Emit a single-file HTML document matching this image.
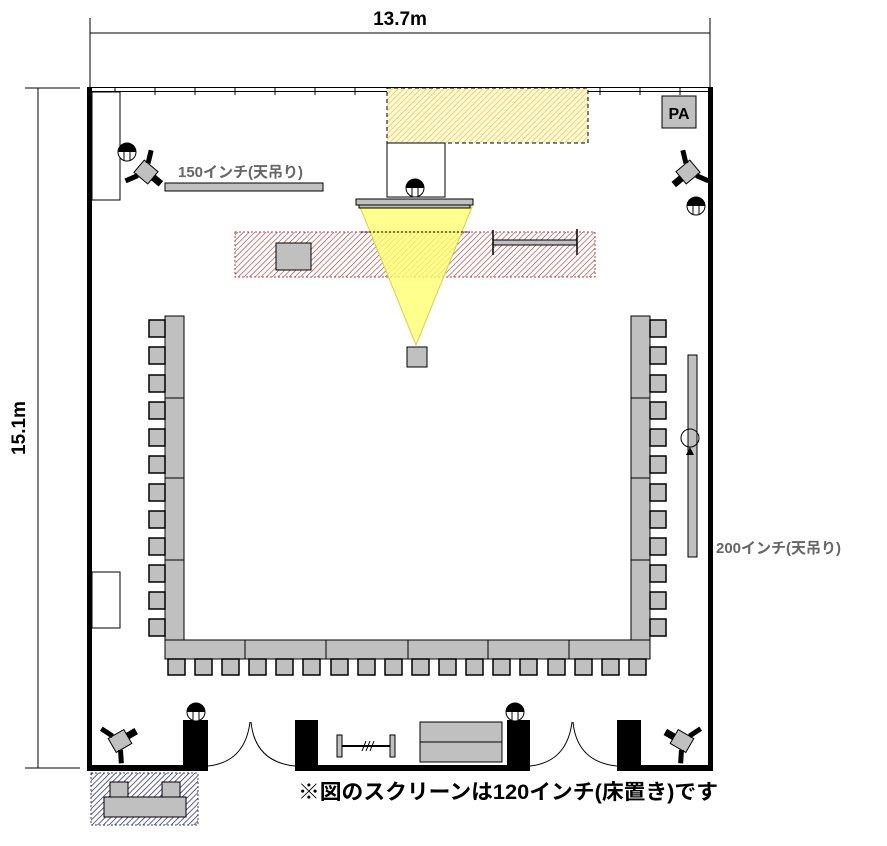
<!DOCTYPE html>
<html><head><meta charset="utf-8"><style>
html,body{margin:0;padding:0;background:#fff;}
svg{display:block;font-family:"Liberation Sans","Noto Sans CJK JP",sans-serif;}
</style></head><body>
<svg width="887" height="846" viewBox="0 0 887 846" xmlns="http://www.w3.org/2000/svg">
<defs>
<pattern id="ry" width="4" height="4" patternUnits="userSpaceOnUse" patternTransform="rotate(45)"><rect width="4" height="4" fill="#fff8d0"/><line x1="0" y1="0" x2="0" y2="4" stroke="#dcc860" stroke-width="1.4"/></pattern>
<pattern id="rr" width="4" height="4" patternUnits="userSpaceOnUse" patternTransform="rotate(45)"><rect width="4" height="4" fill="#fff"/><line x1="0" y1="0" x2="0" y2="4" stroke="#b03030" stroke-width="1.2"/></pattern>
<pattern id="rb" width="4" height="4" patternUnits="userSpaceOnUse" patternTransform="rotate(45)"><rect width="4" height="4" fill="#fff"/><line x1="0" y1="0" x2="0" y2="4" stroke="#2a2a7a" stroke-width="1.5"/></pattern>
<g id="ch"><rect x="0" y="0" width="16" height="17" fill="#c0c0c0" stroke="#000" stroke-width="1.5"/></g>
<g id="chb"><rect x="0" y="0" width="17" height="16" fill="#c0c0c0" stroke="#000" stroke-width="1.5"/></g>
<g id="person"><circle cx="0" cy="0" r="9" fill="#fff" stroke="#000"/><path d="M-9,0 A9,9 0 0 1 9,0 Z" fill="#000"/><line x1="-3" y1="-1" x2="-3" y2="8" stroke="#000"/><line x1="3" y1="-1" x2="3" y2="8" stroke="#000"/></g>
<g id="cam"><rect x="-9" y="-8" width="18" height="16" fill="#c0c0c0" stroke="#000"/><rect x="9" y="-4" width="10" height="7" fill="#000"/><line x1="-4" y1="-8" x2="-10" y2="-20" stroke="#000" stroke-width="5"/><line x1="-4" y1="8" x2="-10" y2="20" stroke="#000" stroke-width="5"/></g>
</defs>

<line x1="90" y1="33" x2="710" y2="33" stroke="#000"/>
<line x1="90" y1="18" x2="90" y2="88" stroke="#000"/>
<line x1="710" y1="18" x2="710" y2="88" stroke="#000"/>
<text x="400" y="25" font-size="19" font-weight="bold" text-anchor="middle">13.7m</text>
<line x1="38" y1="88" x2="38" y2="768" stroke="#000"/>
<line x1="25" y1="88" x2="80" y2="88" stroke="#000"/>
<line x1="25" y1="768" x2="80" y2="768" stroke="#000"/>
<text transform="translate(25,428) rotate(-90)" font-size="19" font-weight="bold" text-anchor="middle">15.1m</text>

<rect x="87" y="87" width="5" height="684" fill="#000"/>
<rect x="708" y="87" width="5" height="684" fill="#000"/>
<line x1="88" y1="87.5" x2="712" y2="87.5" stroke="#000"/>
<line x1="88" y1="91.5" x2="712" y2="91.5" stroke="#000"/>
<g stroke="#000"><line x1="115" y1="87" x2="115" y2="95"/><line x1="155" y1="87" x2="155" y2="95"/><line x1="195" y1="87" x2="195" y2="95"/><line x1="235" y1="87" x2="235" y2="95"/><line x1="275" y1="87" x2="275" y2="95"/><line x1="315" y1="87" x2="315" y2="95"/><line x1="355" y1="87" x2="355" y2="95"/><line x1="600" y1="87" x2="600" y2="95"/><line x1="640" y1="87" x2="640" y2="95"/><line x1="680" y1="87" x2="680" y2="95"/></g>
<rect x="87" y="765" width="96" height="6" fill="#000"/>
<rect x="318" y="765" width="190" height="6" fill="#000"/>
<rect x="641" y="765" width="72" height="6" fill="#000"/>
<rect x="183" y="720" width="25" height="51" fill="#000"/>
<rect x="295" y="720" width="23" height="51" fill="#000"/>
<rect x="507" y="720" width="23" height="51" fill="#000"/>
<rect x="617" y="720" width="24" height="51" fill="#000"/>
<path d="M208,766 Q245,762 250,722 M295,766 Q255,762 251,722 M530,766 Q567,762 572,722 M617,766 Q577,762 573,722" fill="none" stroke="#000"/>

<rect x="92" y="92" width="28" height="108" fill="#fff" stroke="#000"/>
<rect x="92" y="572" width="28" height="56" fill="#fff" stroke="#000"/>

<rect x="387" y="88" width="201" height="55" fill="url(#ry)" stroke="#000" stroke-dasharray="4,3"/>
<rect x="387" y="143" width="58" height="54" fill="#fff" stroke="#000"/>
<use href="#person" x="415" y="188"/>

<rect x="235" y="232" width="360" height="45" fill="url(#rr)" stroke="#b04040" stroke-dasharray="2,2"/>
<rect x="276" y="243" width="35" height="27" fill="#c0c0c0" stroke="#000"/>
<rect x="493" y="240" width="84" height="5" fill="#c0c0c0" stroke="#000"/>
<line x1="493" y1="230" x2="493" y2="255" stroke="#000" stroke-width="1.5"/>
<line x1="577" y1="229" x2="577" y2="255" stroke="#000" stroke-width="1.5"/>

<polygon points="360,207 472,207 416,345" fill="#ffff70" fill-opacity="0.8" stroke="#e0d040"/>
<line x1="361" y1="232" x2="470" y2="232" stroke="#000" stroke-dasharray="2,2"/>
<rect x="356" y="199" width="117" height="6" fill="#c0c0c0" stroke="#000"/>
<rect x="359" y="205" width="111" height="3" fill="#c0c0c0" stroke="#000"/>
<rect x="407" y="347" width="20" height="20" fill="#c0c0c0" stroke="#000"/>

<rect x="165" y="183" width="158" height="8" fill="#c0c0c0" stroke="#000"/>
<text x="178" y="177" font-size="15" font-weight="bold" fill="#666">150インチ(天吊り)</text>

<rect x="662" y="96" width="34" height="32" fill="#c0c0c0" stroke="#000"/>
<text x="679" y="119" font-size="16" font-weight="bold" text-anchor="middle">PA</text>

<use href="#person" x="127" y="152"/>
<g transform="translate(146,172) rotate(40)"><use href="#cam"/></g>
<g transform="translate(688,172) rotate(140)"><use href="#cam"/></g>
<use href="#person" x="696" y="206"/>
<g transform="translate(120,741) rotate(-30)"><use href="#cam"/></g>
<g transform="translate(682,741) rotate(210)"><use href="#cam"/></g>
<use href="#person" x="196" y="712"/>
<use href="#person" x="515" y="712"/>

<rect x="688" y="355" width="9" height="202" fill="#c0c0c0" stroke="#000"/>
<circle cx="690" cy="438" r="9" fill="none" stroke="#000"/>
<polygon points="690,447 686,455 694,455" fill="#000"/>
<text x="716" y="553" font-size="15" font-weight="bold" fill="#666">200インチ(天吊り)</text>

<g fill="#c0c0c0" stroke="#000">
<rect x="165" y="316" width="19" height="82"/><rect x="165" y="398" width="19" height="80"/><rect x="165" y="478" width="19" height="82"/><rect x="165" y="560" width="19" height="80"/>
<rect x="631" y="316" width="19" height="82"/><rect x="631" y="398" width="19" height="80"/><rect x="631" y="478" width="19" height="82"/><rect x="631" y="560" width="19" height="80"/>
<rect x="165" y="640" width="80" height="19"/><rect x="245" y="640" width="81" height="19"/><rect x="326" y="640" width="82" height="19"/><rect x="408" y="640" width="80" height="19"/><rect x="488" y="640" width="81" height="19"/><rect x="569" y="640" width="81" height="19"/>
</g>
<g>
<use href="#ch" x="149" y="320"/><use href="#ch" x="149" y="347"/><use href="#ch" x="149" y="375"/><use href="#ch" x="149" y="402"/><use href="#ch" x="149" y="429"/><use href="#ch" x="149" y="456"/><use href="#ch" x="149" y="484"/><use href="#ch" x="149" y="511"/><use href="#ch" x="149" y="538"/><use href="#ch" x="149" y="565"/><use href="#ch" x="149" y="592"/><use href="#ch" x="149" y="619"/>
<use href="#ch" x="650" y="320"/><use href="#ch" x="650" y="347"/><use href="#ch" x="650" y="375"/><use href="#ch" x="650" y="402"/><use href="#ch" x="650" y="429"/><use href="#ch" x="650" y="456"/><use href="#ch" x="650" y="484"/><use href="#ch" x="650" y="511"/><use href="#ch" x="650" y="538"/><use href="#ch" x="650" y="565"/><use href="#ch" x="650" y="592"/><use href="#ch" x="650" y="619"/>
<use href="#chb" x="168" y="659"/><use href="#chb" x="195" y="659"/><use href="#chb" x="222" y="659"/><use href="#chb" x="249" y="659"/><use href="#chb" x="276" y="659"/><use href="#chb" x="303" y="659"/><use href="#chb" x="331" y="659"/><use href="#chb" x="358" y="659"/><use href="#chb" x="385" y="659"/><use href="#chb" x="412" y="659"/><use href="#chb" x="439" y="659"/><use href="#chb" x="466" y="659"/><use href="#chb" x="493" y="659"/><use href="#chb" x="520" y="659"/><use href="#chb" x="548" y="659"/><use href="#chb" x="575" y="659"/><use href="#chb" x="602" y="659"/><use href="#chb" x="629" y="659"/>
</g>

<rect x="420" y="722" width="82" height="20" fill="#c0c0c0" stroke="#000"/>
<rect x="420" y="742" width="82" height="20" fill="#c0c0c0" stroke="#000"/>
<rect x="337" y="735" width="5" height="22" fill="#c0c0c0" stroke="#000"/>
<rect x="390" y="735" width="5" height="22" fill="#c0c0c0" stroke="#000"/>
<line x1="342" y1="746" x2="390" y2="746" stroke="#000" stroke-width="2"/>
<path d="M362,751 L366,741 M366,751 L370,741 M370,751 L374,741" stroke="#000"/>

<rect x="91" y="773" width="107" height="52" fill="url(#rb)" stroke="#3a3a8a" stroke-dasharray="2,2"/>
<rect x="110" y="782" width="18" height="16" fill="#c0c0c0" stroke="#000"/>
<rect x="162" y="782" width="18" height="16" fill="#c0c0c0" stroke="#000"/>
<rect x="104" y="797" width="82" height="20" fill="#c0c0c0" stroke="#000"/>

<text x="298" y="799" font-size="21" font-weight="bold" textLength="420" lengthAdjust="spacingAndGlyphs">※図のスクリーンは120インチ(床置き)です</text>
</svg>
</body></html>
